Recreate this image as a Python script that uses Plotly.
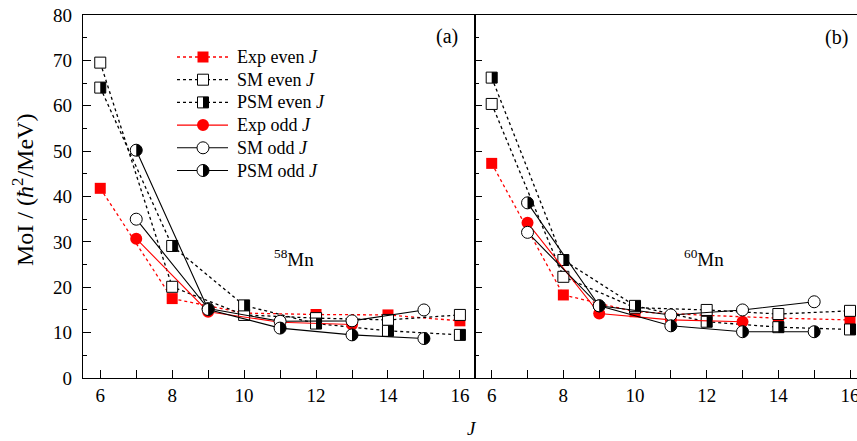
import plotly.graph_objects as go

# ---------------- data ----------------
J_even = [6, 8, 10, 12, 14, 16]
J_odd = [7, 9, 11, 13, 15]
J_odd_exp = [7, 9, 11, 13]

# panel (a) 58Mn
a_exp_even = [41.8, 17.5, 14.3, 14.0, 13.9, 12.6]
a_sm_even = [69.5, 20.1, 13.9, 13.2, 12.8, 13.9]
a_psm_even = [64.0, 29.1, 16.0, 12.0, 10.4, 9.5]
a_exp_odd = [30.7, 14.6, 12.3, 11.8]
a_sm_odd = [35.0, 15.3, 12.5, 12.6, 15.0]
a_psm_odd = [50.2, 15.1, 11.0, 9.5, 8.7]

# panel (b) 60Mn
b_exp_even = [47.3, 18.3, 14.6, 13.8, 13.2, 12.8]
b_sm_even = [60.4, 22.3, 15.5, 15.0, 14.1, 14.8]
b_psm_even = [66.2, 26.0, 15.9, 12.4, 11.2, 10.7]
b_exp_odd = [34.2, 14.2, 12.8, 12.4]
b_sm_odd = [32.1, 15.9, 13.9, 15.0, 16.8]
b_psm_odd = [38.6, 15.9, 11.5, 10.2, 10.2]

names = ["Exp even <i>J</i>", "SM even <i>J</i>", "PSM even <i>J</i>",
         "Exp odd <i>J</i>", "SM odd <i>J</i>", "PSM odd <i>J</i>"]
tick_vals_x = [6, 8, 10, 12, 14, 16]
tick_vals_y = [0, 10, 20, 30, 40, 50, 60, 70, 80]

RED = "#ff0000"
FONT = "Liberation Serif"
SQ = 11
CI = 12

W, H = 857, 441
L, R, T, B = 83, 0, 15, 63
pw = W - L - R
ph = H - T - B
split = (475 - L) / pw


def px2paper(px, py):
    return (px - L) / pw, (H - B - py) / ph


fig = go.Figure()

h = SQ / 2
r = CI / 2
k = 0.5523 * r
HALF_CIRCLE = f"M0,{-r} C{k},{-r} {r},{-k} {r},0 C{r},{k} {k},{r} 0,{r} Z"

# styles: (line colour, dash, symbol, fill, half)
STYLES = [
    (RED, "dot", "square", RED, False),
    ("black", "dot", "square", "white", False),
    ("black", "dot", "square", "white", True),
    (RED, "solid", "circle", RED, False),
    ("black", "solid", "circle", "white", False),
    ("black", "solid", "circle", "white", True),
]


def half_square(xref, yref, x, y):
    fig.add_shape(type="rect", xref=xref, yref=yref, xsizemode="pixel", ysizemode="pixel",
                  xanchor=x, yanchor=y, x0=0, x1=h, y0=-h, y1=h,
                  fillcolor="black", line=dict(width=0))


def half_circle(xref, yref, x, y):
    fig.add_shape(type="path", xref=xref, yref=yref, xsizemode="pixel", ysizemode="pixel",
                  xanchor=x, yanchor=y, path=HALF_CIRCLE,
                  fillcolor="black", line=dict(width=0))


def add_panel(xa, ya, series):
    xs_list = [J_even, J_even, J_even, J_odd_exp, J_odd, J_odd]
    for i, (xs, ys) in enumerate(zip(xs_list, series)):
        lc, dash, sym, fill, half = STYLES[i]
        edge = dict(width=0) if fill == RED else dict(color="black", width=1)
        fig.add_trace(go.Scatter(
            x=xs, y=ys, name=names[i], mode="lines+markers",
            line=dict(color=lc, width=1.3 if dash == "dot" else 1.1, dash=dash),
            marker=dict(symbol=sym, size=SQ if sym == "square" else CI, color=fill, line=edge),
            xaxis=xa, yaxis=ya, showlegend=False, cliponaxis=False))
        if half:
            for x, y in zip(xs, ys):
                if sym == "square":
                    half_square(xa, ya, x, y)
                else:
                    half_circle(xa, ya, x, y)


add_panel("x", "y", [a_exp_even, a_sm_even, a_psm_even, a_exp_odd, a_sm_odd, a_psm_odd])
add_panel("x2", "y2", [b_exp_even, b_sm_even, b_psm_even, b_exp_odd, b_sm_odd, b_psm_odd])

# ---------------- legend (drawn by hand so the half-filled symbols show) ----------------
LEG_Y0 = 57
ROW = 22.7
LINE_X0, LINE_X1, SYM_X, TEXT_X = 177, 228, 203, 235
for i, nm in enumerate(names):
    lc, dash, sym, fill, half = STYLES[i]
    py = LEG_Y0 + i * ROW
    x0, yy = px2paper(LINE_X0, py)
    x1, _ = px2paper(LINE_X1, py)
    fig.add_shape(type="line", xref="paper", yref="paper", x0=x0, x1=x1, y0=yy, y1=yy,
                  line=dict(color=lc, width=1.3 if dash == "dot" else 1.1, dash=dash))
    sx, sy = px2paper(SYM_X, py)
    edge = dict(width=0) if fill == RED else dict(color="black", width=1)
    if sym == "square":
        fig.add_shape(type="rect", xref="paper", yref="paper", xsizemode="pixel", ysizemode="pixel",
                      xanchor=sx, yanchor=sy, x0=-h, x1=h, y0=-h, y1=h,
                      fillcolor=fill, line=edge)
        if half:
            half_square("paper", "paper", sx, sy)
    else:
        fig.add_shape(type="circle", xref="paper", yref="paper", xsizemode="pixel", ysizemode="pixel",
                      xanchor=sx, yanchor=sy, x0=-r, x1=r, y0=-r, y1=r,
                      fillcolor=fill, line=edge)
        if half:
            half_circle("paper", "paper", sx, sy)
    tx, ty = px2paper(TEXT_X, py)
    fig.add_annotation(text=nm, x=tx, y=ty, xref="paper", yref="paper",
                       xanchor="left", yanchor="middle", showarrow=False,
                       font=dict(family=FONT, size=18, color="black"))

axis_common = dict(showline=True, linecolor="black", linewidth=1.3,
                   showgrid=False, zeroline=False, automargin=False,
                   tickfont=dict(family=FONT, size=19, color="black"))

fig.update_layout(
    width=W, height=H,
    margin=dict(l=L, r=R, t=T, b=B, pad=0),
    paper_bgcolor="white", plot_bgcolor="white",
    font=dict(family=FONT, color="black"),
    showlegend=False,
    xaxis=dict(domain=[0, split], range=[5.52, 16.42], mirror=True,
               tickmode="array", tickvals=tick_vals_x, ticks="inside", ticklen=8,
               tickwidth=1.2, tickcolor="black",
               minor=dict(dtick=1, tick0=6, ticks="inside", ticklen=8, tickwidth=1.2, tickcolor="black"),
               **axis_common),
    yaxis=dict(domain=[0, 1], range=[0, 80], mirror=True, anchor="x",
               tickmode="array", tickvals=tick_vals_y, ticks="inside", ticklen=8,
               tickwidth=1.2, tickcolor="black", ticklabelstandoff=6,
               minor=dict(dtick=5, tick0=0, ticks="inside", ticklen=4, tickwidth=1.2, tickcolor="black"),
               **axis_common),
    xaxis2=dict(domain=[split, 1], range=[5.534, 16.195], mirror=True, anchor="y2",
                tickmode="array", tickvals=tick_vals_x, ticks="inside", ticklen=8,
                tickwidth=1.2, tickcolor="black", ticklabeloverflow="allow",
                minor=dict(dtick=1, tick0=6, ticks="inside", ticklen=8, tickwidth=1.2, tickcolor="black"),
                **axis_common),
    yaxis2=dict(domain=[0, 1], range=[0, 80], anchor="x2", showticklabels=False,
                tickmode="array", tickvals=tick_vals_y, ticks="inside", ticklen=7,
                tickwidth=1.2, tickcolor="black",
                minor=dict(dtick=5, tick0=0, ticks="inside", ticklen=4, tickwidth=1.2, tickcolor="black"),
                **axis_common),
)

annots = [
    ("(a)", 447, 37, 20),
    ("(b)", 836, 38, 20),
    ("<sup>58</sup>Mn", 294, 258, 19),
    ("<sup>60</sup>Mn", 704, 258, 19),
]
for txt, px, py, sz in annots:
    xp, yp = px2paper(px, py)
    fig.add_annotation(text=txt, x=xp, y=yp, xref="paper", yref="paper",
                       xanchor="center", yanchor="middle",
                       showarrow=False, font=dict(family=FONT, size=sz, color="black"))

xp, yp = px2paper(23, 190)
fig.add_annotation(text="MoI / (<i>ħ</i><sup>2</sup>/MeV)", x=xp, y=yp, xref="paper", yref="paper",
                   xanchor="center", yanchor="middle",
                   textangle=-90, showarrow=False, font=dict(family=FONT, size=24, color="black"))
xp, yp = px2paper(472, 428)
fig.add_annotation(text="<i>J</i>", x=xp, y=yp, xref="paper", yref="paper",
                   xanchor="center", yanchor="middle",
                   showarrow=False, font=dict(family=FONT, size=19, color="black"))

fig.write_html("out.html", config={"displayModeBar": False},
               post_script="document.body.style.margin='0px';")
